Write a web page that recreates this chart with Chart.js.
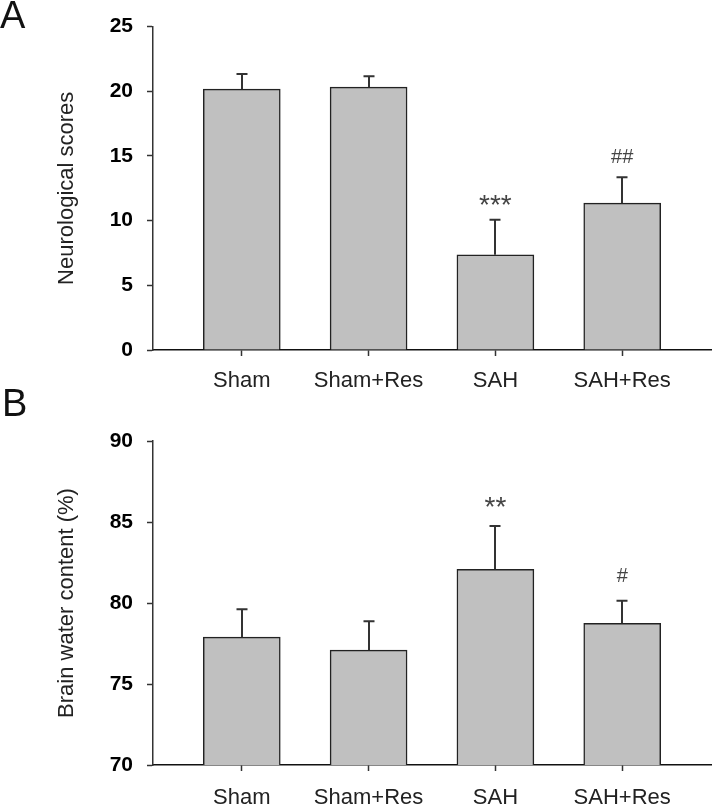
<!DOCTYPE html>
<html>
<head>
<meta charset="utf-8">
<script src="https://cdn.jsdelivr.net/npm/chart.js@4.4.1/dist/chart.umd.min.js"></script>
<style>
  body { margin: 0; background: #fff; width: 712px; height: 804px; position: relative; overflow: hidden; }
  .panel { position: absolute; left: 0; width: 712px; }
  .letter { position: absolute; left: 0; font-family: "Liberation Sans", Arial, sans-serif; font-size: 38px; color: #111; line-height: 1; }
</style>
</head>
<body>
<div class="panel" style="top:0;height:392px"><canvas id="chartA" width="712" height="392"></canvas></div>
<div class="panel" style="top:392px;height:412px"><canvas id="chartB" width="712" height="412"></canvas></div>
<div class="letter" style="top:-4px;left:0">A</div>
<div class="letter" style="top:384px;left:2px">B</div>
<script>
// groups
const groups = ['Sham', 'Sham+Res', 'SAH', 'SAH+Res'];

// panel A - neurological scores
const scoreMean = [20.17, 20.32, 7.36, 11.35];
const scoreErr = [1.17, 0.85, 2.7, 2.0];
const scoreSig = ['', '', '***', '##'];

// panel B - brain water content
const waterMean = [77.89, 77.09, 82.08, 78.75];
const waterErr = [1.72, 1.78, 2.68, 1.39];
const waterSig = ['', '', '**', '#'];

const font = '"Liberation Sans", Arial, sans-serif';

// draws the upper error bars and significance marks
const errorBarPlugin = {
  id: 'errorBars',
  afterDatasetsDraw(chart, args, opts) {
    const ctx = chart.ctx;
    const meta = chart.getDatasetMeta(0);
    const yScale = chart.scales.y;
    ctx.save();
    ctx.strokeStyle = '#333';
    ctx.lineWidth = 2;
    meta.data.forEach((bar, i) => {
      const top = yScale.getPixelForValue(opts.mean[i] + opts.err[i]);
      const x = Math.round(bar.x);
      ctx.beginPath();
      ctx.moveTo(x, bar.y);
      ctx.lineTo(x, top);
      ctx.moveTo(x - 5.5, top);
      ctx.lineTo(x + 5.5, top);
      ctx.stroke();

      const sig = opts.sig[i];
      if (sig) {
        const star = sig.indexOf('*') >= 0;
        ctx.fillStyle = '#444';
        ctx.textAlign = 'center';
        ctx.textBaseline = 'middle';
        ctx.font = (star ? '28px ' : '20px ') + font;
        ctx.fillText(sig, bar.x, top - opts.gap + (star ? 6 : 0));
      }
    });
    ctx.restore();
  }
};

function makeChart(id, mean, err, sig, yMin, yMax, title, pad, xHeight, labelPad, gap) {
  return new Chart(document.getElementById(id), {
    type: 'bar',
    data: {
      datasets: [{
        data: mean.map((m, i) => ({ x: i, y: m })),
        backgroundColor: '#c0c0c0',
        borderColor: '#222',
        borderWidth: 1.5,
        borderSkipped: 'bottom',
        barThickness: 77
      }]
    },
    options: {
      responsive: false,
      animation: false,
      layout: { padding: { top: pad, right: 1, left: 0, bottom: 0 } },
      plugins: {
        legend: { display: false },
        tooltip: { enabled: false },
        errorBars: { mean: mean, err: err, sig: sig, gap: gap }
      },
      scales: {
        x: {
          type: 'linear',
          min: -0.7,
          max: 3.7,
          offset: false,
          afterBuildTicks: scale => { scale.ticks = groups.map((g, i) => ({ value: i })); },
          afterFit: scale => { scale.height = xHeight; },
          ticks: {
            callback: v => groups[v],
            color: '#222',
            font: { family: font, size: 22 },
            padding: labelPad,
            maxRotation: 0,
            autoSkip: false
          },
          grid: { offset: false, drawOnChartArea: false, drawTicks: true, tickLength: 6, tickColor: '#333', tickWidth: 1.5 },
          border: { display: true, color: '#111', width: 1.5 }
        },
        y: {
          min: yMin,
          max: yMax,
          afterFit: scale => { scale.width = 153; },
          ticks: {
            stepSize: 5,
            color: '#000',
            font: { family: font, size: 21, weight: 'bold' },
            padding: 14
          },
          grid: { drawOnChartArea: false, drawTicks: true, tickLength: 6, tickColor: '#333', tickWidth: 1.5 },
          border: { display: true, color: '#333', width: 1.5 },
          title: {
            display: true,
            text: title,
            color: '#222',
            font: { family: font, size: 22 },
            padding: { top: 54, bottom: 0 }
          }
        }
      }
    },
    plugins: [errorBarPlugin]
  });
}

makeChart('chartA', scoreMean, scoreErr, scoreSig, 0, 25, 'Neurological scores', 24, 42, 12, 20);
makeChart('chartB', waterMean, waterErr, waterSig, 70, 90, 'Brain water content (%)', 49, 39, 14, 24);
</script>
</body>
</html>
